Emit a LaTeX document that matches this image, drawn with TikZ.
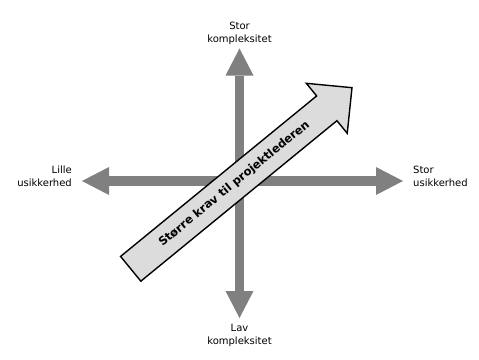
\documentclass[tikz,border=0pt]{standalone}
\usepackage{fontspec}
\setmainfont{DejaVu Sans}
\usetikzlibrary{arrows.meta}
\definecolor{axisgray}{HTML}{808080}
\definecolor{boxgray}{HTML}{DCDCDC}
\tikzset{
  axis/.style={draw=axisgray, line width=9.5pt,
    {Triangle[width=28pt,length=27pt,line width=0pt]}-{Triangle[width=28pt,length=27pt,line width=0pt]}},
  lbl/.style={font=\fontsize{10}{13}\selectfont, inner sep=0pt},
  bigarrow/.style={draw=black, fill=boxgray, line width=1.4pt, line join=miter},
  bigtext/.style={font=\bfseries\fontsize{11.5}{13}\selectfont, inner sep=0pt, transform shape}
}
\begin{document}
\begin{tikzpicture}[x=1pt,y=-1pt]
\useasboundingbox (0,0) rectangle (479,359);
\coordinate (L) at (82,181);
\coordinate (R) at (403,181);
\coordinate (T) at (239.5,48.5);
\coordinate (B) at (239.5,318);
\draw[axis] (B) -- (T);
\draw[axis] (L) -- (R);
\node[lbl, align=center] (top) at (239.5,33.5) {Stor\\kompleksitet};
\node[lbl, align=center] (bot) at (239.5,335.5) {Lav\\kompleksitet};
\node[lbl, align=right, anchor=east] (left) at (72,176.5) {Lille\\usikkerhed};
\node[lbl, align=left, anchor=west] (right) at (413,176.5) {Stor\\usikkerhed};
\begin{scope}[shift={(130.7,268.8)}, rotate=39.3]
  \coordinate (tail) at (0,0);
  \coordinate (tip) at (286,0);
  \draw[bigarrow] (0,-16) -- (253.4,-16) -- (253.4,-32.3) -- (tip) -- (253.4,32.3) -- (253.4,16) -- (0,16) -- cycle;
  \node[bigtext] (demand) at (134,0) {Større krav til projektlederen};
\end{scope}
\end{tikzpicture}
\end{document}
